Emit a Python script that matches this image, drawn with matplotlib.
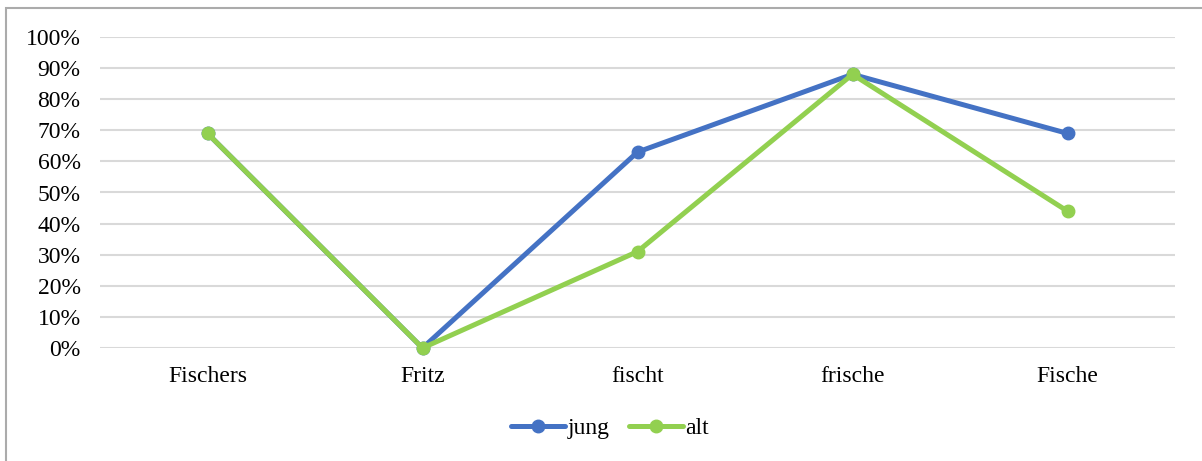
import matplotlib.pyplot as plt
import matplotlib.patches as mpatches
from matplotlib.ticker import PercentFormatter

categories = ['Fischers', 'Fritz', 'fischt', 'frische', 'Fische']
jung = [0.69, 0.0, 0.63, 0.88, 0.69]
alt = [0.69, 0.0, 0.31, 0.88, 0.44]
yticks = [0.0, 0.1, 0.2, 0.3, 0.4, 0.5, 0.6, 0.7, 0.8, 0.9, 1.0]

plt.rcParams['font.family'] = ['Liberation Serif', 'DejaVu Serif']

W, H = 1202, 461
fig = plt.figure(figsize=(W / 100, H / 100), dpi=100)
ax = fig.add_axes([100 / W, 1 - 348 / H, 1075 / W, 311 / H])

# outer chart border (left and top visible only)
fig.patches.append(mpatches.Rectangle((6 / W, -0.1), 1.2, 1 - 8 / H + 0.1,
                                      transform=fig.transFigure, fill=False,
                                      edgecolor='#ABABAB', linewidth=1.5))

x = range(len(categories))
ax.plot(x, jung, color='#4472C4', lw=3.6, marker='o', ms=9, label='jung',
        solid_capstyle='round', solid_joinstyle='round', clip_on=False, zorder=3)
ax.plot(x, alt, color='#92D050', lw=3.6, marker='o', ms=9, label='alt',
        solid_capstyle='round', solid_joinstyle='round', clip_on=False, zorder=4)

ax.set_xlim(-0.5, len(categories) - 0.5)
ax.set_ylim(0, 1)
ax.set_yticks(yticks)
ax.yaxis.set_major_formatter(PercentFormatter(1.0, decimals=0))
ax.set_xticks(list(x))
ax.set_xticklabels(categories)
ax.tick_params(axis='both', length=0, labelsize=17)
ax.tick_params(axis='y', pad=14)
ax.tick_params(axis='x', pad=13)

ax.grid(axis='y', color='#D9D9D9', lw=1.5)
ax.set_axisbelow(True)
for s in ax.spines.values():
    s.set_visible(False)

ax.legend(loc='center', bbox_to_anchor=(610 / W, 1 - 428 / H),
          bbox_transform=fig.transFigure, ncol=2, frameon=False,
          fontsize=17, handlelength=2.3, handletextpad=0.1,
          columnspacing=0.8)

fig.savefig('out.png', dpi=100)
